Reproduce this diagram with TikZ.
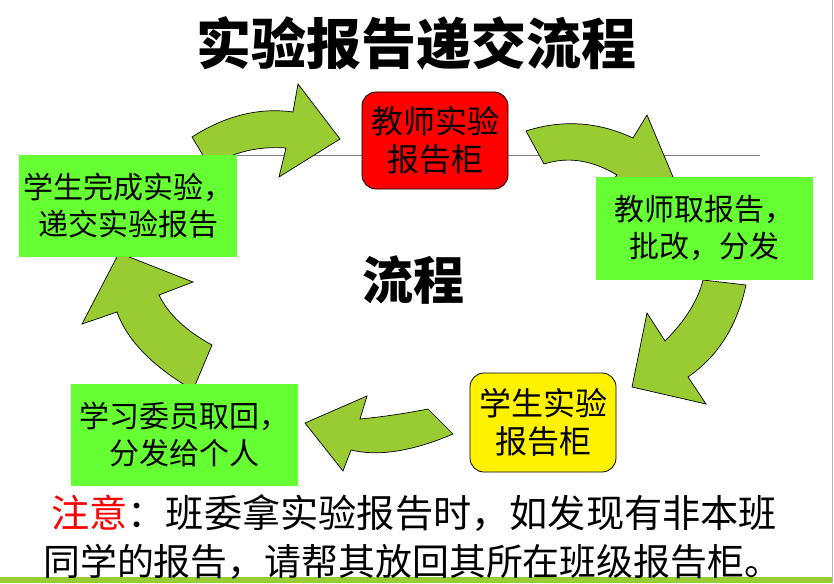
\documentclass[tikz,border=0pt]{standalone}
\usepackage{fontspec}
\setmainfont{Noto Sans CJK SC}
\definecolor{arrowgreen}{RGB}{153,204,51}
\definecolor{boxgreen}{RGB}{102,255,51}
\definecolor{linegray}{RGB}{128,128,128}
\begin{document}
\begin{tikzpicture}[x=1pt,y=-1pt,
  flowarrow/.style={fill=arrowgreen,draw=black,line width=0.7pt,line join=miter},
  greenbox/.style={fill=boxgreen,inner sep=0pt,align=center},
  roundbox/.style={draw=black,line width=0.8pt,rounded corners=14pt,inner sep=0pt,align=center},
  boxtext/.style={font=\fontsize{30}{37}\selectfont},
  bigtext/.style={font=\fontsize{32}{38}\selectfont},
  notetext/.style={anchor=west,inner sep=0pt}
]
\fill[white] (0,0) rectangle (834,583);
\useasboundingbox (0,0) rectangle (834,583);
% guide lines and bottom bar
\draw[linegray,line width=0.8pt] (200,155) -- (760,155);
\draw[linegray!60,line width=1pt] (832.5,0) -- (832.5,583);
\fill[arrowgreen] (0,577) rectangle (832,583);
% curved arrows
\draw[flowarrow] (192,137) .. controls (225.3,115.7) and (259,107.3) .. (293,112) -- (298,84) -- (340,139) -- (279,177) -- (286,148) .. controls (258.7,146) and (232.7,151.7) .. (210,167) -- cycle;
\draw[flowarrow] (526,131) .. controls (562.3,119.3) and (598,121.7) .. (633,138) -- (647,115) -- (673,177) -- (603,193) -- (617,175) .. controls (592,160) and (567.7,156.3) .. (544,164) -- cycle;
\draw[flowarrow] (746,285) .. controls (737.3,325.7) and (718,356.3) .. (688,377) -- (706,404) -- (632,387) -- (647,313) -- (665,341) .. controls (685.2,320.8) and (697.9,300.5) .. (703,280) -- cycle;
\draw[flowarrow] (428,409) .. controls (404,413.7) and (381.3,417) .. (360,419) -- (367,396) -- (305,423) -- (343,471) -- (351,450) .. controls (378.3,456.7) and (412.3,451.3) .. (453,434) -- cycle;
\draw[flowarrow] (193,390) .. controls (152.5,366.3) and (127.1,340.3) .. (117,312) -- (82,324) -- (119,253) -- (193,282) -- (159,295) .. controls (168.1,314) and (185.7,330.7) .. (212,345) -- cycle;
% boxes
\node[greenbox,boxtext,minimum width=218pt,minimum height=102pt] (submit) at (128,206) {学生完成实验，\\递交实验报告};
\node[roundbox,bigtext,fill=red,minimum width=146pt,minimum height=97pt] (tcab) at (435,140.5) {教师实验\\报告柜};
\node[greenbox,boxtext,minimum width=217pt,minimum height=103pt] (grade) at (704.5,228.5) {教师取报告，\\批改，分发};
\node[roundbox,bigtext,fill=yellow,minimum width=146pt,minimum height=99pt] (scab) at (543,422.5) {学生实验\\报告柜};
\node[greenbox,boxtext,minimum width=227pt,minimum height=102pt] (collect) at (184.5,435) {学习委员取回，\\分发给个人};
% texts
\node[font=\fontsize{55}{60}\selectfont\bfseries] (title) at (416,43) {实验报告递交流程};
\node[font=\fontsize{51}{56}\selectfont\bfseries] (center) at (413,280) {流程};
\node[notetext,font=\fontsize{38.2}{40}\selectfont] (note1) at (51,513) {\textcolor{red}{注意}：班委拿实验报告时，如发现有非本班};
\node[notetext,font=\fontsize{36.9}{40}\selectfont] (note2) at (43,562) {同学的报告，请帮其放回其所在班级报告柜。};
\end{tikzpicture}
\end{document}
